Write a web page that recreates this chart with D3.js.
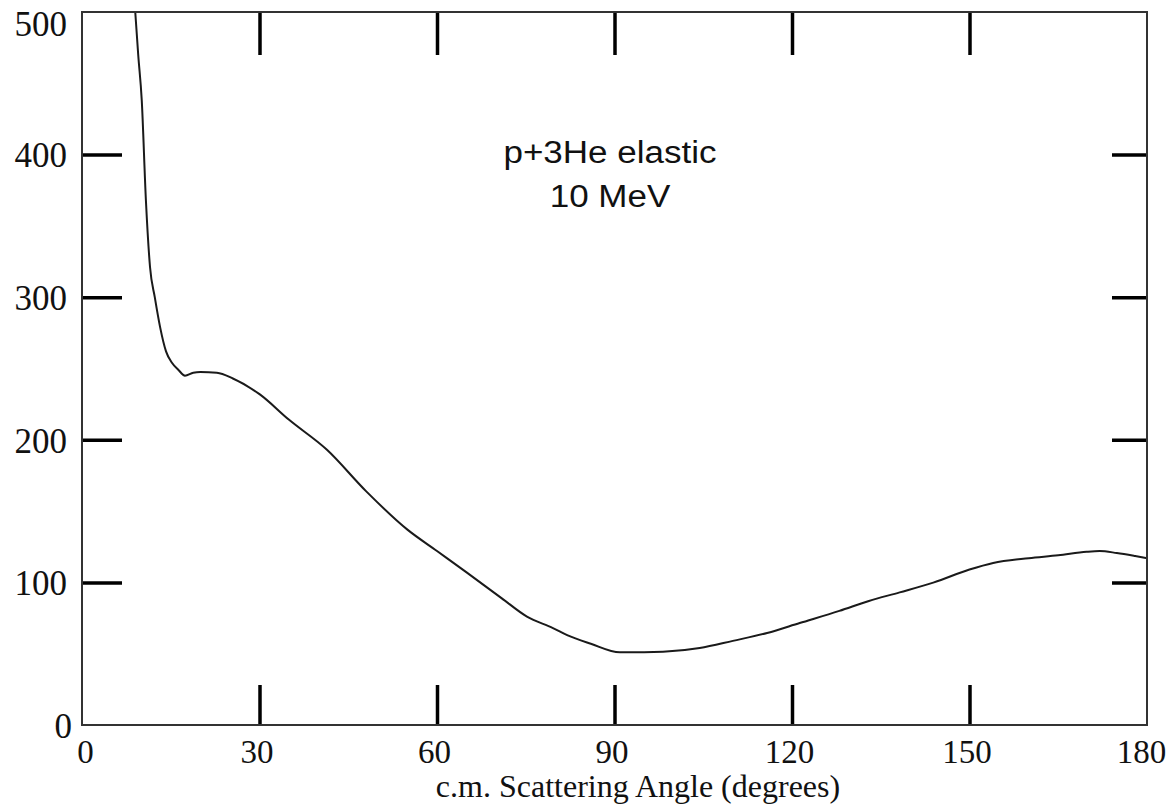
<!DOCTYPE html>
<html>
<head>
<meta charset="utf-8">
<script src="https://cdn.jsdelivr.net/npm/d3@7"></script>
<style>
  html, body { margin: 0; padding: 0; background: #fff; }
  svg { display: block; }
</style>
</head>
<body>
<svg id="chart" width="1169" height="808"></svg>
<script>
// ---- data ----
const angles = [9.0, 9.5, 10.1, 10.8, 11.5, 12.3, 13.2, 14.2, 15.2, 16.3, 17.4, 18.8, 20, 22.8, 25.5, 30, 35, 41.4, 48, 55, 60, 65, 70.9, 75.2, 79.6, 82, 86, 90.9, 95, 98.2, 104.4, 110, 115.8, 121.3, 128, 133, 138.2, 144, 150, 154, 160, 165, 169.8, 172, 174.9, 178, 180];
const crossSection = [500, 470, 438, 368, 321, 300, 279, 262, 254, 249, 245, 247, 247.5, 247, 243, 232, 214, 193, 164, 137, 122, 107, 89, 76, 68, 63, 57, 51, 51, 51.3, 54, 59, 64.5, 71.5, 80, 87, 93, 100, 109, 113.6, 117, 119, 121.5, 122, 120.6, 118.5, 117];
const xTicks = [0, 30, 60, 90, 120, 150, 180];
const yTicks = [0, 100, 200, 300, 400, 500];
const xTitle = "c.m. Scattering Angle (degrees)";
const annotation = ["p+3He elastic", "10 MeV"];

// ---- layout ----
const pL = 82, pR = 1147, pT = 12, pB = 725;
const svg = d3.select("#chart");
const x = d3.scaleLinear().domain([0, 180]).range([pL, pR]);
const y = d3.scaleLinear().domain([0, 500]).range([pB, pT]);

const serif = "'Liberation Serif', 'Times New Roman', serif";
const sans = "'Liberation Sans', Arial, sans-serif";

// clip
svg.append("defs").append("clipPath").attr("id", "clip")
  .append("rect").attr("x", pL).attr("y", pT).attr("width", pR - pL).attr("height", pB - pT);

// curve
const data = angles.map((a, i) => ({ a, v: crossSection[i] }));
const line = d3.line().x(d => x(d.a)).y(d => y(d.v)).curve(d3.curveMonotoneX);
svg.append("path")
  .attr("clip-path", "url(#clip)")
  .attr("d", line(data))
  .attr("fill", "none")
  .attr("stroke", "#1a1a1a")
  .attr("stroke-width", 2);

// inward ticks (4 sides)
function styleTicks(g) {
  g.select(".domain").remove();
  g.selectAll(".tick line").attr("stroke", "#000").attr("stroke-width", 3.5);
}
const leftAxis = svg.append("g").attr("transform", `translate(${pL},0)`)
  .call(d3.axisLeft(y).tickValues(yTicks).tickSize(-40).tickFormat(d3.format("d")));
styleTicks(leftAxis);
leftAxis.selectAll(".tick line").filter(d => d === 0 || d === 500).remove();
leftAxis.selectAll(".tick text")
  .attr("font-family", serif).attr("font-size", 35).attr("fill", "#111")
  .attr("x", d => d === 0 ? -10 : -15)
  .attr("dy", d => d === 500 ? "0.68em" : "0.35em")
  .attr("text-anchor", "end");

const rightAxis = svg.append("g").attr("transform", `translate(${pR},0)`)
  .call(d3.axisRight(y).tickValues(yTicks.filter(d => d > 0 && d < 500)).tickSize(-35).tickFormat(""));
styleTicks(rightAxis);

const bottomAxis = svg.append("g").attr("transform", `translate(0,${pB})`)
  .call(d3.axisBottom(x).tickValues(xTicks).tickSize(-40).tickFormat(d3.format("d")));
styleTicks(bottomAxis);
bottomAxis.selectAll(".tick line").filter(d => d === 0 || d === 180).remove();
bottomAxis.selectAll(".tick text")
  .attr("font-family", serif).attr("font-size", 33).attr("fill", "#111")
  .attr("y", 38).attr("dy", 0)
  .attr("dx", d => d === 0 ? 3 : (d === 180 ? -6 : -3));

const topAxis = svg.append("g").attr("transform", `translate(0,${pT})`)
  .call(d3.axisTop(x).tickValues(xTicks.filter(d => d > 0 && d < 180)).tickSize(-43).tickFormat(""));
styleTicks(topAxis);

// frame
svg.append("rect")
  .attr("x", pL).attr("y", pT).attr("width", pR - pL).attr("height", pB - pT)
  .attr("fill", "none").attr("stroke", "#333").attr("stroke-width", 2);

// x title
svg.append("text")
  .attr("x", 638).attr("y", 797)
  .attr("text-anchor", "middle")
  .attr("font-family", serif).attr("font-size", 32).attr("fill", "#111")
  .text(xTitle);

// annotation
const ann = svg.append("g").attr("transform", "translate(610,0) scale(1.13,1)");
ann.selectAll("text").data(annotation).join("text")
  .attr("x", 0).attr("y", (d, i) => 163 + i * 44)
  .attr("text-anchor", "middle")
  .attr("font-family", sans).attr("font-size", 31).attr("fill", "#111")
  .text(d => d);
</script>
</body>
</html>
